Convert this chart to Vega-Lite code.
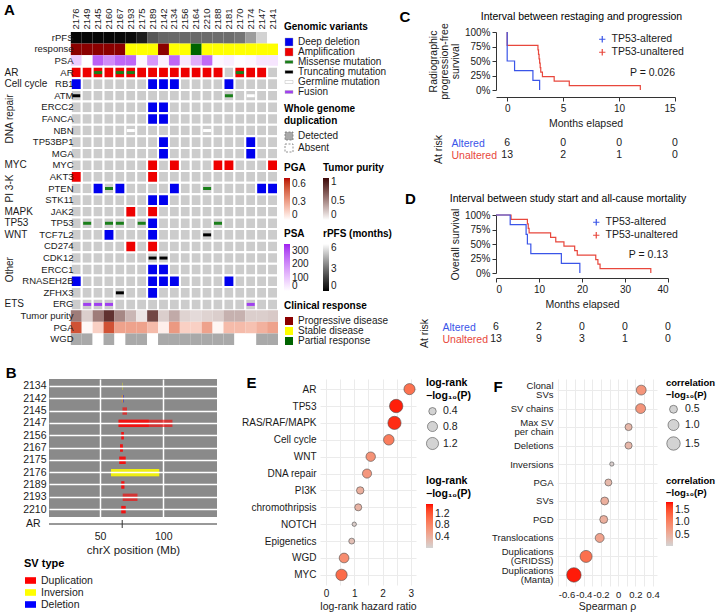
{
"$schema":"https://vega.github.io/schema/vega-lite/v6.json",
"padding":{"left":3,"top":2,"right":0,"bottom":0},
"config":{
 "font":"Liberation Sans",
 "view":{"stroke":null},
 "axis":{"labelFontSize":10,"titleFontSize":10.5,"titleFontWeight":"normal","labelColor":"#1a1a1a","titleColor":"#1a1a1a","domainColor":"#333333","tickColor":"#333333"},
 "legend":{"titleFontSize":10,"labelFontSize":10,"titleColor":"#000000","labelColor":"#1a1a1a","titleFontWeight":"bold","symbolBaseFillColor":"#d3d3d3","symbolBaseStrokeColor":"#4d4d4d","labelOverlap":false},
 "title":{"fontWeight":"normal","color":"#000000"}
},
"datasets":{
 "samples":[
  {"sample":"2176","rPFS":0.1,"response":"Progressive disease","PSA":90,"Tumor purity":0.55,"PGA":0.55,"WGD":"Detected","AR":"Amplification","RB1":"Deep deletion","AKT3":"Amplification","RNASEH2B":"Deep deletion"},
  {"sample":"2149","rPFS":0.1,"response":"Progressive disease","PSA":3,"Tumor purity":0.2,"PGA":0.02,"WGD":"Detected","AR":"Amplification"},
  {"sample":"2145","rPFS":0.1,"response":"Progressive disease","PSA":270,"Tumor purity":0.55,"PGA":0.15,"WGD":"Absent","AR":"Amplification","PTEN":"Deep deletion"},
  {"sample":"2160","rPFS":0.1,"response":"Progressive disease","PSA":200,"Tumor purity":0.9,"PGA":0.55,"WGD":"Detected","AR":"Amplification","TCF7L2":"Deep deletion"},
  {"sample":"2167","rPFS":0.15,"response":"Progressive disease","PSA":260,"Tumor purity":0.5,"PGA":0.3,"WGD":"Absent","AR":"Amplification","PTEN":"Deep deletion"},
  {"sample":"2193","rPFS":0.2,"response":"Stable disease","PSA":260,"Tumor purity":0.3,"PGA":0.3,"WGD":"Detected","AR":"Amplification","JAK2":"Amplification","CD274":"Amplification"},
  {"sample":"2175","rPFS":0.7,"response":"Stable disease","PSA":15,"Tumor purity":0.1,"PGA":0.3,"WGD":"Detected","AR":"Amplification"},
  {"sample":"2189","rPFS":2.4,"response":"Stable disease","PSA":180,"Tumor purity":0.8,"PGA":0.22,"WGD":"Absent","AR":"Amplification","RB1":"Deep deletion","ERCC2":"Deep deletion","FANCA":"Deep deletion","MYC":"Amplification","AKT3":"Amplification","STK11":"Deep deletion","JAK2":"Amplification","TP53":"Deep deletion","TCF7L2":"Deep deletion","CD274":"Amplification","ERCC1":"Deep deletion","RNASEH2B":"Deep deletion","ZFHX3":"Deep deletion"},
  {"sample":"2142","rPFS":2.8,"response":"Progressive disease","PSA":25,"Tumor purity":0.2,"PGA":0.05,"WGD":"Detected","AR":"Amplification","RB1":"Deep deletion","ERCC2":"Deep deletion","FANCA":"Deep deletion","TP53BP1":"Deep deletion","MGA":"Deep deletion","STK11":"Deep deletion","ERCC1":"Deep deletion","RNASEH2B":"Deep deletion"},
  {"sample":"2134","rPFS":2.85,"response":"Stable disease","PSA":260,"Tumor purity":0.35,"PGA":0.33,"WGD":"Detected","AR":"Amplification","RB1":"Deep deletion","MYC":"Amplification","PTEN":"Deep deletion","RNASEH2B":"Deep deletion"},
  {"sample":"2156","rPFS":2.85,"response":"Stable disease","PSA":40,"Tumor purity":0.18,"PGA":0.15,"WGD":"Detected","AR":"Amplification"},
  {"sample":"2164","rPFS":2.9,"response":"Partial response","PSA":140,"Tumor purity":0.15,"PGA":0.15,"WGD":"Detected","AR":"Amplification"},
  {"sample":"2210","rPFS":2.95,"response":"Stable disease","PSA":255,"Tumor purity":0.18,"PGA":0.3,"WGD":"Detected","AR":"Amplification"},
  {"sample":"2188","rPFS":3.0,"response":"Stable disease","PSA":15,"Tumor purity":0.2,"PGA":0.03,"WGD":"Detected","AR":"Amplification","MYC":"Amplification"},
  {"sample":"2181","rPFS":3.0,"response":"Stable disease","PSA":30,"Tumor purity":0.32,"PGA":0.22,"WGD":"Detected","RB1":"Deep deletion","MYC":"Amplification","RNASEH2B":"Deep deletion"},
  {"sample":"2170","rPFS":3.2,"response":"Stable disease","PSA":5,"Tumor purity":0.32,"PGA":0.22,"WGD":"Absent","AR":"Amplification"},
  {"sample":"2174","rPFS":4.2,"response":"Stable disease","PSA":15,"Tumor purity":0.2,"PGA":0.2,"WGD":"Absent","AR":"Amplification","TP53BP1":"Deep deletion","MGA":"Deep deletion"},
  {"sample":"2147","rPFS":5.5,"response":"Stable disease","PSA":45,"Tumor purity":0.2,"PGA":0.25,"WGD":"Detected","AR":"Amplification","PTEN":"Deep deletion"},
  {"sample":"2141","rPFS":11.9,"response":"Stable disease","PSA":45,"Tumor purity":0.22,"PGA":0.3,"WGD":"Detected","MYC":"Amplification","PTEN":"Deep deletion"}
 ],
 "muts":[
  {"sample":"2145","row":"AR","type":"Missense mutation"},
  {"sample":"2167","row":"AR","type":"Missense mutation"},
  {"sample":"2193","row":"AR","type":"Missense mutation"},
  {"sample":"2170","row":"AR","type":"Missense mutation"},
  {"sample":"2176","row":"ATM","type":"Truncating mutation"},
  {"sample":"2181","row":"ATM","type":"Missense mutation"},
  {"sample":"2174","row":"ATM","type":"Germline mutation"},
  {"sample":"2193","row":"NBN","type":"Germline mutation"},
  {"sample":"2210","row":"NBN","type":"Germline mutation"},
  {"sample":"2160","row":"PTEN","type":"Missense mutation"},
  {"sample":"2210","row":"PTEN","type":"Missense mutation"},
  {"sample":"2149","row":"TP53","type":"Missense mutation"},
  {"sample":"2160","row":"TP53","type":"Missense mutation"},
  {"sample":"2167","row":"TP53","type":"Missense mutation"},
  {"sample":"2175","row":"TP53","type":"Missense mutation"},
  {"sample":"2188","row":"TP53","type":"Missense mutation"},
  {"sample":"2210","row":"TCF7L2","type":"Truncating mutation"},
  {"sample":"2189","row":"CDK12","type":"Truncating mutation"},
  {"sample":"2142","row":"CDK12","type":"Truncating mutation"},
  {"sample":"2167","row":"ZFHX3","type":"Truncating mutation"},
  {"sample":"2149","row":"ERG","type":"Fusion"},
  {"sample":"2145","row":"ERG","type":"Fusion"},
  {"sample":"2160","row":"ERG","type":"Fusion"},
  {"sample":"2174","row":"ERG","type":"Fusion"}
 ]
},
"resolve":{"scale":{"color":"independent","size":"independent","shape":"independent"}},
"spacing":18,
"vconcat":[
 {
  "resolve":{"scale":{"color":"independent","size":"independent","shape":"independent"}},
  "spacing":7,
  "hconcat":[
   {
    "width":229,"height":313,
    "title":{"text":"A","anchor":"start","fontSize":15,"fontWeight":"bold","offset":0,"dy":10},
    "encoding":{"x":{"field":"sample","type":"nominal","scale":{"domain":["2176","2149","2145","2160","2167","2193","2175","2189","2142","2134","2156","2164","2210","2188","2181","2170","2174","2147","2141"],"paddingInner":0,"paddingOuter":1.27,"align":1},"axis":{"orient":"top","title":null,"labelAngle":-90,"labelFontSize":9.5,"ticks":false,"domain":false,"labelPadding":3}}},
    "resolve":{"scale":{"color":"independent","shape":"independent","y":"independent"},"axis":{"y":"independent"}},
    "layer":[
     {"data":{"name":"samples"},"transform":[{"fold":["rPFS"],"as":["row","value"]}],
      "mark":{"type":"rect"},
      "encoding":{"y":{"field":"row","type":"nominal","scale":{"domain":["rPFS","response","PSA","AR","RB1","ATM","ERCC2","FANCA","NBN","TP53BP1","MGA","MYC","AKT3","PTEN","STK11","JAK2","TP53","TCF7L2","CD274","CDK12","ERCC1","RNASEH2B","ZFHX3","ERG","Tumor purity","PGA","WGD"],"paddingInner":0,"paddingOuter":0},
         "axis":{"orient":"left","title":null,"ticks":false,"domain":false,"labelAlign":"left","labelPadding":45,"labelFontSize":10,"labelExpr":"datum.value == 'AR' ? 'AR' : datum.value == 'RB1' ? 'Cell cycle' : datum.value == 'MYC' ? 'MYC' : datum.value == 'JAK2' ? 'MAPK' : datum.value == 'TP53' ? 'TP53' : datum.value == 'TCF7L2' ? 'WNT' : datum.value == 'ERG' ? 'ETS' : ''"}},
        "color":{"field":"value","type":"quantitative","scale":{"domain":[0,6.5],"range":["#000000","#ffffff"],"clamp":true,"interpolate":"lab"},"legend":{"title":"rPFS (months)","orient":"none","legendX":274,"legendY":197,"values":[0,3,6],"gradientLength":47,"gradientThickness":6,"direction":"vertical"}}}},
     {"data":{"name":"samples"},"transform":[{"fold":["response"],"as":["row","value"]}],
      "mark":{"type":"rect"},
      "encoding":{"y":{"field":"row","type":"nominal","scale":{"domain":["rPFS","response","PSA","AR","RB1","ATM","ERCC2","FANCA","NBN","TP53BP1","MGA","MYC","AKT3","PTEN","STK11","JAK2","TP53","TCF7L2","CD274","CDK12","ERCC1","RNASEH2B","ZFHX3","ERG","Tumor purity","PGA","WGD"],"paddingInner":0,"paddingOuter":0},"axis":null},
        "color":{"field":"value","type":"nominal","scale":{"domain":["Progressive disease","Stable disease","Partial response"],"range":["#8b0000","#ffff00","#006400"]},"legend":{"title":"Clinical response","orient":"none","legendX":235,"legendY":269,"symbolType":"square","symbolSize":64,"rowPadding":0}}}},
     {"data":{"name":"samples"},"transform":[{"fold":["PSA"],"as":["row","value"]}],
      "mark":{"type":"rect"},
      "encoding":{"y":{"field":"row","type":"nominal","scale":{"domain":["rPFS","response","PSA","AR","RB1","ATM","ERCC2","FANCA","NBN","TP53BP1","MGA","MYC","AKT3","PTEN","STK11","JAK2","TP53","TCF7L2","CD274","CDK12","ERCC1","RNASEH2B","ZFHX3","ERG","Tumor purity","PGA","WGD"],"paddingInner":0,"paddingOuter":0},
         "axis":{"orient":"left","title":null,"ticks":false,"domain":false,"labelAngle":270,"labelAlign":"center","labelBaseline":"middle","labelPadding":40,"labelFontSize":10,"labelExpr":"datum.value == 'FANCA' ? 'DNA repair' : datum.value == 'PTEN' ? 'PI 3-K' : datum.value == 'ERCC1' ? 'Other' : ''"}},
        "color":{"field":"value","type":"quantitative","scale":{"domain":[0,350],"range":["#ffffff","#a020f0"],"interpolate":"lab"},"legend":{"title":"PSA","orient":"none","legendX":235,"legendY":197,"values":[0,100,200,300],"gradientLength":47,"gradientThickness":6,"direction":"vertical"}}}},
     {
      "layer":[
       {"data":{"name":"samples"},"transform":[{"fold":["AR","RB1","ATM","ERCC2","FANCA","NBN","TP53BP1","MGA","MYC","AKT3","PTEN","STK11","JAK2","TP53","TCF7L2","CD274","CDK12","ERCC1","RNASEH2B","ZFHX3","ERG"],"as":["row","cna"]}],
        "mark":{"type":"rect","color":"#cccccc","stroke":"#ffffff","strokeWidth":2},
        "encoding":{"y":{"field":"row","type":"nominal","scale":{"domain":["rPFS","response","PSA","AR","RB1","ATM","ERCC2","FANCA","NBN","TP53BP1","MGA","MYC","AKT3","PTEN","STK11","JAK2","TP53","TCF7L2","CD274","CDK12","ERCC1","RNASEH2B","ZFHX3","ERG","Tumor purity","PGA","WGD"],"paddingInner":0,"paddingOuter":0},"axis":{"orient":"left","title":null,"ticks":false,"domain":false,"offset":-27,"labelPadding":3,"labelFontSize":9.5}}}},
       {"data":{"name":"samples"},"transform":[{"fold":["AR","RB1","ATM","ERCC2","FANCA","NBN","TP53BP1","MGA","MYC","AKT3","PTEN","STK11","JAK2","TP53","TCF7L2","CD274","CDK12","ERCC1","RNASEH2B","ZFHX3","ERG"],"as":["row","cna"]},{"filter":"isValid(datum.cna)"}],
        "mark":{"type":"rect","stroke":"#ffffff","strokeWidth":2},
        "encoding":{"y":{"field":"row","type":"nominal","scale":{"domain":["rPFS","response","PSA","AR","RB1","ATM","ERCC2","FANCA","NBN","TP53BP1","MGA","MYC","AKT3","PTEN","STK11","JAK2","TP53","TCF7L2","CD274","CDK12","ERCC1","RNASEH2B","ZFHX3","ERG","Tumor purity","PGA","WGD"],"paddingInner":0,"paddingOuter":0},"axis":{"orient":"left","title":null,"ticks":false,"domain":false,"offset":-27,"labelPadding":3,"labelFontSize":9.5}},
          "color":{"field":"cna","type":"nominal","scale":{"domain":["Deep deletion","Amplification","Missense mutation","Truncating mutation","Germline mutation","Fusion"],"range":["#0000ee","#ee0000","#1a7f1a","#000000","#ffffff","#a040f0"]},"legend":{"title":"Genomic variants","orient":"none","legendX":235,"legendY":-10,"symbolSize":64,"rowPadding":0,"symbolStrokeColor":"#aaaaaa","symbolStrokeWidth":0.4}}}},
       {"data":{"name":"muts"},
        "mark":{"type":"point","filled":true,"opacity":1,"size":64,"strokeWidth":0},
        "encoding":{"y":{"field":"row","type":"nominal","scale":{"domain":["rPFS","response","PSA","AR","RB1","ATM","ERCC2","FANCA","NBN","TP53BP1","MGA","MYC","AKT3","PTEN","STK11","JAK2","TP53","TCF7L2","CD274","CDK12","ERCC1","RNASEH2B","ZFHX3","ERG","Tumor purity","PGA","WGD"],"paddingInner":0,"paddingOuter":0},"axis":{"orient":"left","title":null,"ticks":false,"domain":false,"offset":-27,"labelPadding":3,"labelFontSize":9.5}},
          "color":{"field":"type","type":"nominal","scale":{"domain":["Deep deletion","Amplification","Missense mutation","Truncating mutation","Germline mutation","Fusion"],"range":["#0000ee","#ee0000","#1a7f1a","#000000","#ffffff","#a040f0"]},"legend":{"title":"Genomic variants","orient":"none","legendX":235,"legendY":-10,"symbolSize":64,"rowPadding":0,"symbolStrokeColor":"#aaaaaa","symbolStrokeWidth":0.4}},
          "shape":{"field":"type","type":"nominal","scale":{"domain":["Deep deletion","Amplification","Missense mutation","Truncating mutation","Germline mutation","Fusion"],"range":["square","square","M-1,-0.375H1V0.375H-1Z","M-1,-0.375H1V0.375H-1Z","M-1,-0.375H1V0.375H-1Z","M-1,-0.375H1V0.375H-1Z"]},"legend":{"title":"Genomic variants","orient":"none","legendX":235,"legendY":-10,"symbolSize":64,"rowPadding":0,"symbolStrokeColor":"#aaaaaa","symbolStrokeWidth":0.4}}}}
      ]
     },
     {"data":{"name":"samples"},"transform":[{"fold":["Tumor purity"],"as":["row","value"]}],
      "mark":{"type":"rect"},
      "encoding":{"y":{"field":"row","type":"nominal","scale":{"domain":["rPFS","response","PSA","AR","RB1","ATM","ERCC2","FANCA","NBN","TP53BP1","MGA","MYC","AKT3","PTEN","STK11","JAK2","TP53","TCF7L2","CD274","CDK12","ERCC1","RNASEH2B","ZFHX3","ERG","Tumor purity","PGA","WGD"],"paddingInner":0,"paddingOuter":0},"axis":null},
        "color":{"field":"value","type":"quantitative","scale":{"domain":[0,1.1],"range":["#ffffff","#3d0808"],"interpolate":"lab"},"legend":{"title":"Tumor purity","orient":"none","legendX":274,"legendY":131,"values":[0,0.5,1],"format":"~g","gradientLength":42,"gradientThickness":6,"direction":"vertical"}}}},
     {"data":{"name":"samples"},"transform":[{"fold":["PGA"],"as":["row","value"]}],
      "mark":{"type":"rect"},
      "encoding":{"y":{"field":"row","type":"nominal","scale":{"domain":["rPFS","response","PSA","AR","RB1","ATM","ERCC2","FANCA","NBN","TP53BP1","MGA","MYC","AKT3","PTEN","STK11","JAK2","TP53","TCF7L2","CD274","CDK12","ERCC1","RNASEH2B","ZFHX3","ERG","Tumor purity","PGA","WGD"],"paddingInner":0,"paddingOuter":0},"axis":null},
        "color":{"field":"value","type":"quantitative","scale":{"domain":[0,0.7],"range":["#ffffff","#b80000"],"interpolate":"lab"},"legend":{"title":"PGA","orient":"none","legendX":235,"legendY":131,"values":[0,0.3,0.6],"format":"~g","gradientLength":42,"gradientThickness":6,"direction":"vertical"}}}},
     {"data":{"name":"samples"},"transform":[{"fold":["WGD"],"as":["row","value"]}],
      "mark":{"type":"rect"},
      "encoding":{"y":{"field":"row","type":"nominal","scale":{"domain":["rPFS","response","PSA","AR","RB1","ATM","ERCC2","FANCA","NBN","TP53BP1","MGA","MYC","AKT3","PTEN","STK11","JAK2","TP53","TCF7L2","CD274","CDK12","ERCC1","RNASEH2B","ZFHX3","ERG","Tumor purity","PGA","WGD"],"paddingInner":0,"paddingOuter":0},"axis":null},
        "color":{"field":"value","type":"nominal","scale":{"domain":["Detected","Absent"],"range":["#a9a9a9","#ffffff"]},"legend":{"title":["Whole genome","duplication"],"orient":"none","legendX":235,"legendY":72,"symbolType":"square","symbolSize":64,"rowPadding":0,"symbolStrokeColor":"#777777","symbolStrokeWidth":0.8,"symbolDash":[2,1.5]}}}}
    ]
   },
   {
    "resolve":{"scale":{"color":"independent","size":"independent","shape":"independent"}},
    "spacing":27,
    "vconcat":[
     {
      "bounds":"flush","spacing":47,
      "title":{"text":"C","anchor":"start","fontSize":15,"fontWeight":"bold","offset":0,"dx":-29,"dy":13},
      "vconcat":[
       {
        "width":179,"height":58,
        "title":{"text":"Interval between restaging and progression","fontSize":10.5,"offset":0,"dx":-4},
        "layer":[
         {"data":{"values":[{"g":"TP53-unaltered","t":0,"s":1},{"g":"TP53-unaltered","t":0,"s":0.769},{"g":"TP53-unaltered","t":2.75,"s":0.692},{"g":"TP53-unaltered","t":2.8,"s":0.615},{"g":"TP53-unaltered","t":2.85,"s":0.538},{"g":"TP53-unaltered","t":2.9,"s":0.462},{"g":"TP53-unaltered","t":2.95,"s":0.385},{"g":"TP53-unaltered","t":3.0,"s":0.308},{"g":"TP53-unaltered","t":3.15,"s":0.231},{"g":"TP53-unaltered","t":4.2,"s":0.154},{"g":"TP53-unaltered","t":5.55,"s":0.077},{"g":"TP53-unaltered","t":11.9,"s":0}]},
          "mark":{"type":"line","interpolate":"step-after","strokeWidth":1.2},
          "encoding":{
           "x":{"field":"t","type":"quantitative","scale":{"domain":[-1,15],"nice":false,"zero":false},"axis":{"values":[0,5,10,15],"title":"Months elapsed","offset":7,"grid":false,"tickSize":4,"labelPadding":2,"titlePadding":5,"labelOverlap":false}},
           "y":{"field":"s","type":"quantitative","scale":{"domain":[0,1],"nice":false},"axis":{"values":[0,0.25,0.5,0.75,1],"format":".0%","title":["Radiographic","progression-free","survival"],"grid":false,"tickSize":4,"titlePadding":4,"titleLineHeight":11,"labelOverlap":false}},
           "order":{"value":null},"color":{"field":"g","type":"nominal","scale":{"domain":["TP53-altered","TP53-unaltered"],"range":["#3a55e8","#e8473c"]},"legend":{"title":null,"orient":"none","legendX":101,"legendY":2,"symbolType":"M-1,0H1M0,-1V1","symbolSize":40,"symbolStrokeWidth":1.2,"labelFontSize":10.5,"rowPadding":1}}}},
         {"data":{"values":[{"g":"TP53-altered","t":0,"s":1},{"g":"TP53-altered","t":0,"s":0.5},{"g":"TP53-altered","t":0.66,"s":0.333},{"g":"TP53-altered","t":2.3,"s":0.167},{"g":"TP53-altered","t":2.9,"s":0}]},
          "mark":{"type":"line","interpolate":"step-after","strokeWidth":1.2},
          "encoding":{
           "x":{"field":"t","type":"quantitative","scale":{"domain":[-1,15],"nice":false,"zero":false},"axis":{"values":[0,5,10,15],"title":"Months elapsed","offset":7,"grid":false,"tickSize":4,"labelPadding":2,"titlePadding":5,"labelOverlap":false}},
           "y":{"field":"s","type":"quantitative","scale":{"domain":[0,1],"nice":false},"axis":{"values":[0,0.25,0.5,0.75,1],"format":".0%","title":["Radiographic","progression-free","survival"],"grid":false,"tickSize":4,"titlePadding":4,"titleLineHeight":11,"labelOverlap":false}},
           "order":{"value":null},"color":{"field":"g","type":"nominal","scale":{"domain":["TP53-altered","TP53-unaltered"],"range":["#3a55e8","#e8473c"]},"legend":{"title":null,"orient":"none","legendX":101,"legendY":2,"symbolType":"M-1,0H1M0,-1V1","symbolSize":40,"symbolStrokeWidth":1.2,"labelFontSize":10.5,"rowPadding":1}}}},
         {"data":{"values":[{"label":"P = 0.026"}]},"mark":{"type":"text","align":"right","baseline":"middle","fontSize":10.5,"color":"#1a1a1a"},
          "encoding":{
           "x":{"datum":15,"type":"quantitative","scale":{"domain":[-1,15],"nice":false,"zero":false},"axis":{"values":[0,5,10,15],"title":"Months elapsed","offset":7,"grid":false,"tickSize":4,"labelPadding":2,"titlePadding":5,"labelOverlap":false}},
           "y":{"datum":0.3,"type":"quantitative","scale":{"domain":[0,1],"nice":false},"axis":{"values":[0,0.25,0.5,0.75,1],"format":".0%","title":["Radiographic","progression-free","survival"],"grid":false,"tickSize":4,"titlePadding":4,"titleLineHeight":11,"labelOverlap":false}},
           "text":{"field":"label","type":"nominal"}}}
        ]
       },
       {
        "width":179,"height":24,
        "data":{"values":[{"g":"Altered","t":0,"n":6},{"g":"Altered","t":5,"n":0},{"g":"Altered","t":10,"n":0},{"g":"Altered","t":15,"n":0},{"g":"Unaltered","t":0,"n":13},{"g":"Unaltered","t":5,"n":2},{"g":"Unaltered","t":10,"n":1},{"g":"Unaltered","t":15,"n":0}]},
        "mark":{"type":"text","fontSize":10.5,"color":"#1a1a1a"},
        "encoding":{
         "x":{"field":"t","type":"quantitative","scale":{"domain":[-1,15],"nice":false,"zero":false},"axis":null},
         "y":{"field":"g","type":"nominal","scale":{"domain":["Altered","Unaltered"],"paddingInner":0,"paddingOuter":0},"axis":{"title":"At risk","ticks":false,"domain":false,"labelFontSize":10.5,"labelAlign":"left","labelPadding":45,"titlePadding":8,"labelColor":{"condition":{"test":"datum.value == 'Altered'","value":"#3a55e8"},"value":"#e8473c"}}},
         "text":{"field":"n","type":"quantitative"}
        }
       }
      ]
     },
     {
      "bounds":"flush","spacing":48,
      "title":{"text":"D","anchor":"start","fontSize":15,"fontWeight":"bold","offset":0,"dx":-14,"dy":13},
      "vconcat":[
       {
        "width":172,"height":58,
        "title":{"text":"Interval between study start and all-cause mortality","fontSize":10.5,"offset":4,"dx":-14},
        "layer":[
         {"data":{"values":[{"g":"TP53-unaltered","t":0,"s":1},{"g":"TP53-unaltered","t":3.5,"s":0.923},{"g":"TP53-unaltered","t":7.3,"s":0.846},{"g":"TP53-unaltered","t":7.5,"s":0.769},{"g":"TP53-unaltered","t":7.7,"s":0.692},{"g":"TP53-unaltered","t":12.7,"s":0.615},{"g":"TP53-unaltered","t":13.9,"s":0.538},{"g":"TP53-unaltered","t":15.8,"s":0.462},{"g":"TP53-unaltered","t":18.3,"s":0.385},{"g":"TP53-unaltered","t":18.9,"s":0.308},{"g":"TP53-unaltered","t":23.2,"s":0.231},{"g":"TP53-unaltered","t":23.7,"s":0.154},{"g":"TP53-unaltered","t":24.2,"s":0.077},{"g":"TP53-unaltered","t":36,"s":0}]},
          "mark":{"type":"line","interpolate":"step-after","strokeWidth":1.2},
          "encoding":{
           "x":{"field":"t","type":"quantitative","scale":{"domain":[0,40],"nice":false,"zero":false},"axis":{"values":[0,10,20,30,40],"title":"Months elapsed","offset":5,"grid":false,"tickSize":4,"labelPadding":2,"titlePadding":5,"labelOverlap":false}},
           "y":{"field":"s","type":"quantitative","scale":{"domain":[0,1],"nice":false},"axis":{"values":[0,0.25,0.5,0.75,1],"format":".0%","title":"Overall survival","grid":false,"tickSize":4,"titlePadding":4,"labelOverlap":false}},
           "order":{"value":null},"color":{"field":"g","type":"nominal","scale":{"domain":["TP53-altered","TP53-unaltered"],"range":["#3a55e8","#e8473c"]},"legend":{"title":null,"orient":"none","legendX":95,"legendY":2,"symbolType":"M-1,0H1M0,-1V1","symbolSize":40,"symbolStrokeWidth":1.2,"labelFontSize":10.5,"rowPadding":1}}}},
         {"data":{"values":[{"g":"TP53-altered","t":0,"s":1},{"g":"TP53-altered","t":3.3,"s":0.833},{"g":"TP53-altered","t":7.0,"s":0.667},{"g":"TP53-altered","t":7.3,"s":0.5},{"g":"TP53-altered","t":8.1,"s":0.333},{"g":"TP53-altered","t":15.2,"s":0.167},{"g":"TP53-altered","t":19.5,"s":0}]},
          "mark":{"type":"line","interpolate":"step-after","strokeWidth":1.2},
          "encoding":{
           "x":{"field":"t","type":"quantitative","scale":{"domain":[0,40],"nice":false,"zero":false},"axis":{"values":[0,10,20,30,40],"title":"Months elapsed","offset":5,"grid":false,"tickSize":4,"labelPadding":2,"titlePadding":5,"labelOverlap":false}},
           "y":{"field":"s","type":"quantitative","scale":{"domain":[0,1],"nice":false},"axis":{"values":[0,0.25,0.5,0.75,1],"format":".0%","title":"Overall survival","grid":false,"tickSize":4,"titlePadding":4,"labelOverlap":false}},
           "order":{"value":null},"color":{"field":"g","type":"nominal","scale":{"domain":["TP53-altered","TP53-unaltered"],"range":["#3a55e8","#e8473c"]},"legend":{"title":null,"orient":"none","legendX":95,"legendY":2,"symbolType":"M-1,0H1M0,-1V1","symbolSize":40,"symbolStrokeWidth":1.2,"labelFontSize":10.5,"rowPadding":1}}}},
         {"data":{"values":[{"label":"P = 0.13"}]},"mark":{"type":"text","align":"right","baseline":"middle","fontSize":10.5,"color":"#1a1a1a"},
          "encoding":{
           "x":{"datum":40,"type":"quantitative","scale":{"domain":[0,40],"nice":false,"zero":false},"axis":{"values":[0,10,20,30,40],"title":"Months elapsed","offset":5,"grid":false,"tickSize":4,"labelPadding":2,"titlePadding":5,"labelOverlap":false}},
           "y":{"datum":0.31,"type":"quantitative","scale":{"domain":[0,1],"nice":false},"axis":{"values":[0,0.25,0.5,0.75,1],"format":".0%","title":"Overall survival","grid":false,"tickSize":4,"titlePadding":4,"labelOverlap":false}},
           "text":{"field":"label","type":"nominal"}}}
        ]
       },
       {
        "width":172,"height":24,
        "data":{"values":[{"g":"Altered","t":0,"n":6},{"g":"Altered","t":10,"n":2},{"g":"Altered","t":20,"n":0},{"g":"Altered","t":30,"n":0},{"g":"Altered","t":40,"n":0},{"g":"Unaltered","t":0,"n":13},{"g":"Unaltered","t":10,"n":9},{"g":"Unaltered","t":20,"n":3},{"g":"Unaltered","t":30,"n":1},{"g":"Unaltered","t":40,"n":0}]},
        "mark":{"type":"text","fontSize":10.5,"color":"#1a1a1a"},
        "encoding":{
         "x":{"field":"t","type":"quantitative","scale":{"domain":[0,40],"nice":false,"zero":false},"axis":null},
         "y":{"field":"g","type":"nominal","scale":{"domain":["Altered","Unaltered"],"paddingInner":0,"paddingOuter":0},"axis":{"title":"At risk","ticks":false,"domain":false,"labelFontSize":10.5,"labelAlign":"left","labelPadding":54,"titlePadding":13,"labelColor":{"condition":{"test":"datum.value == 'Altered'","value":"#3a55e8"},"value":"#e8473c"}}},
         "text":{"field":"n","type":"quantitative"}
        }
       }
      ]
     }
    ]
   }
  ]
 },
 {
  "resolve":{"scale":{"color":"independent","size":"independent","shape":"independent"}},
  "spacing":23,
  "hconcat":[
   {
    "bounds":"flush","spacing":1,
    "title":{"text":"B","anchor":"start","fontSize":15,"fontWeight":"bold","offset":0,"dx":-17,"dy":2},
    "vconcat":[
     {
      "width":168,"height":138,
      "view":{"fill":"#8a8a8a"},
      "data":{"values":[
       {"sample":"2134","start":67.4,"end":67.8,"type":"Inversion"},
       {"sample":"2142","start":67.2,"end":67.7,"type":"Duplication"},
       {"sample":"2142","start":67.2,"end":67.7,"type":"Inversion"},
       {"sample":"2142","start":68.3,"end":68.8,"type":"Deletion"},
       {"sample":"2145","start":67.7,"end":71.3,"type":"Duplication"},
       {"sample":"2147","start":64.6,"end":107.3,"type":"Duplication"},
       {"sample":"2147","start":64.6,"end":88.6,"type":"Duplication"},
       {"sample":"2156","start":66.8,"end":68.8,"type":"Duplication"},
       {"sample":"2156","start":66.8,"end":68.8,"type":"Duplication"},
       {"sample":"2167","start":65.8,"end":68.0,"type":"Duplication"},
       {"sample":"2167","start":65.8,"end":68.0,"type":"Duplication"},
       {"sample":"2175","start":65.2,"end":70.2,"type":"Duplication"},
       {"sample":"2175","start":65.2,"end":70.2,"type":"Duplication"},
       {"sample":"2176","start":58.6,"end":96.8,"type":"Inversion"},
       {"sample":"2176","start":58.6,"end":96.8,"type":"Inversion"},
       {"sample":"2189","start":66.8,"end":69.2,"type":"Duplication"},
       {"sample":"2189","start":66.8,"end":69.2,"type":"Duplication"},
       {"sample":"2193","start":67.9,"end":79.6,"type":"Duplication"},
       {"sample":"2210","start":66.8,"end":70.2,"type":"Duplication"},
       {"sample":"2210","start":66.8,"end":70.2,"type":"Duplication"}
      ]},
      "mark":{"type":"rect","opacity":0.62},
      "encoding":{
       "x":{"field":"start","type":"quantitative","scale":{"domain":[9.5,142.6],"nice":false,"zero":false},"axis":{"values":[50,100],"labels":false,"ticks":false,"domain":false,"title":null,"grid":true,"gridColor":"#ffffff","gridWidth":1.5}},
       "x2":{"field":"end"},
       "y":{"field":"sample","type":"nominal","scale":{"domain":["2134","2142","2145","2147","2156","2167","2175","2176","2189","2193","2210"],"paddingInner":0.4,"paddingOuter":0.3},"axis":{"title":null,"ticks":false,"domain":false,"grid":true,"gridColor":"#ffffff","gridWidth":1.5,"bandPosition":0.5,"labelPadding":3,"labelFontSize":10.5}},
       "color":{"field":"type","type":"nominal","scale":{"domain":["Duplication","Inversion","Deletion"],"range":["#ff0000","#ffff00","#0000ff"]},"legend":{"title":"SV type","orient":"none","legendX":-25,"legendY":179,"symbolType":"M-1,-0.6H1V0.6H-1Z","symbolSize":121,"symbolOpacity":1,"labelFontSize":10.5,"titleFontSize":11,"rowPadding":0}}
      }
     },
     {
      "width":168,"height":12,
      "data":{"values":[{"row":"AR","pos":67.5}]},
      "encoding":{
       "y":{"field":"row","type":"nominal","scale":{"domain":["AR"]},"axis":{"title":null,"ticks":false,"domain":false,"labelPadding":9,"labelFontSize":10.5}}
      },
      "layer":[
       {"mark":{"type":"rule","color":"#333333"}},
       {"mark":{"type":"tick","orient":"vertical","color":"#333333","size":8,"thickness":1,"opacity":1},
        "encoding":{"x":{"field":"pos","type":"quantitative","scale":{"domain":[9.5,142.6],"nice":false,"zero":false},"axis":{"values":[50,100],"ticks":false,"domain":false,"grid":false,"title":"chrX position (Mb)","labelPadding":1,"titlePadding":3,"labelFontSize":10.5,"titleFontSize":11.5}}}}
      ]
     }
    ]
   },
   {
    "resolve":{"scale":{"color":"independent","size":"independent","shape":"independent"}},
    "spacing":20,
    "hconcat":[
     {
      "width":96,"height":206,
      "title":{"text":"E","anchor":"start","fontSize":15,"fontWeight":"bold","offset":0,"dx":5,"dy":13},
      "data":{"values":[
       {"cat":"AR","hr":2.95,"p":1.0},
       {"cat":"TP53","hr":2.48,"p":1.5},
       {"cat":"RAS/RAF/MAPK","hr":2.42,"p":1.45},
       {"cat":"Cell cycle","hr":2.22,"p":0.9},
       {"cat":"WNT","hr":1.58,"p":0.7},
       {"cat":"DNA repair","hr":1.45,"p":0.65},
       {"cat":"PI3K","hr":1.21,"p":0.4},
       {"cat":"chromothripsis","hr":1.14,"p":0.35},
       {"cat":"NOTCH","hr":1.0,"p":0.08},
       {"cat":"Epigenetics","hr":0.91,"p":0.22},
       {"cat":"WGD","hr":0.64,"p":0.75},
       {"cat":"MYC","hr":0.55,"p":1.05}
      ]},
      "mark":{"type":"point","filled":true,"opacity":1,"stroke":"#4d4d4d","strokeWidth":0.6},
      "encoding":{
       "y":{"field":"cat","type":"nominal","scale":{"type":"point","padding":0.6,"domain":["AR","TP53","RAS/RAF/MAPK","Cell cycle","WNT","DNA repair","PI3K","chromothripsis","NOTCH","Epigenetics","WGD","MYC"]},"axis":{"title":null,"ticks":false,"domain":false,"grid":true,"gridColor":"#ebebeb","labelPadding":4,"labelFontSize":10}},
       "x":{"field":"hr","type":"quantitative","scale":{"domain":[-0.21,3.18],"nice":false,"zero":false},"axis":{"values":[0,0.5,1,1.5,2,2.5,3],"labelExpr":"datum.value % 1 == 0 ? format(datum.value, 'd') : ''","ticks":false,"domain":false,"grid":true,"gridColor":"#ebebeb","title":"log-rank hazard ratio","labelPadding":3,"titlePadding":3,"labelOverlap":false}},
       "size":{"field":"p","type":"quantitative","scale":{"domain":[0,1.5],"range":[10,180]},"legend":{"title":["log-rank","−log₁₀(P)"],"orient":"none","legendX":106,"legendY":-1,"values":[0.4,0.8,1.2],"format":".1f","symbolFillColor":"#d3d3d3","symbolStrokeColor":"#4d4d4d","symbolStrokeWidth":0.6,"labelFontSize":10.5,"titleFontSize":10.5,"rowPadding":3}},
       "color":{"field":"p","type":"quantitative","scale":{"domain":[0,1.55],"range":["#d3d3d3","#ff0000"],"interpolate":"lab"},"legend":{"title":["log-rank","−log₁₀(P)"],"orient":"none","legendX":106,"legendY":97,"values":[0.4,0.8,1.2],"format":".1f","gradientLength":44,"gradientThickness":7,"direction":"vertical","labelFontSize":10.5,"titleFontSize":10.5}}
      }
     },
     {
      "width":100,"height":207,
      "title":{"text":"F","anchor":"start","fontSize":15,"fontWeight":"bold","offset":0,"dx":2,"dy":17},
      "data":{"values":[
       {"cat":"Clonal SVs","rho":0.267,"p":0.8},
       {"cat":"SV chains","rho":0.26,"p":0.8},
       {"cat":"Max SV per chain","rho":0.12,"p":0.4},
       {"cat":"Deletions","rho":0.12,"p":0.4},
       {"cat":"Inversions","rho":-0.074,"p":0.12},
       {"cat":"PGA","rho":-0.114,"p":0.38},
       {"cat":"SVs","rho":-0.157,"p":0.5},
       {"cat":"PGD","rho":-0.168,"p":0.5},
       {"cat":"Translocations","rho":-0.215,"p":0.65},
       {"cat":"Duplications (GRIDSS)","rho":-0.373,"p":1.2},
       {"cat":"Duplications (Manta)","rho":-0.514,"p":1.75}
      ]},
      "mark":{"type":"point","filled":true,"opacity":1,"stroke":"#4d4d4d","strokeWidth":0.6},
      "encoding":{
       "y":{"field":"cat","type":"nominal","scale":{"type":"point","padding":0.6,"domain":["Clonal SVs","SV chains","Max SV per chain","Deletions","Inversions","PGA","SVs","PGD","Translocations","Duplications (GRIDSS)","Duplications (Manta)"]},"axis":{"title":null,"ticks":false,"domain":false,"grid":true,"gridColor":"#ebebeb","labelPadding":4,"labelFontSize":9.5,"labelLineHeight":9,"labelOffset":{"condition":{"test":"datum.label == 'Clonal SVs' || datum.label == 'Max SV per chain' || datum.label == 'Duplications (GRIDSS)' || datum.label == 'Duplications (Manta)'","value":-4.5},"value":0},"labelExpr":"datum.label == 'Clonal SVs' ? ['Clonal','SVs'] : datum.label == 'Max SV per chain' ? ['Max SV','per chain'] : datum.label == 'Duplications (GRIDSS)' ? ['Duplications','(GRIDSS)'] : datum.label == 'Duplications (Manta)' ? ['Duplications','(Manta)'] : datum.label"}},
       "x":{"field":"rho","type":"quantitative","scale":{"domain":[-0.71,0.45],"nice":false,"zero":false},"axis":{"values":[-0.7,-0.6,-0.5,-0.4,-0.3,-0.2,-0.1,0,0.1,0.2,0.3,0.4],"labelExpr":"abs(round(datum.value*10)) % 2 == 0 && datum.value > -0.65 ? (datum.value == 0 ? '0' : replace(format(datum.value, '.1f'), '−', '-')) : ''","ticks":false,"domain":false,"grid":true,"gridColor":"#ebebeb","title":"Spearman ρ","labelPadding":3,"titlePadding":3,"labelOverlap":false,"labelFontSize":9.5}},
       "size":{"field":"p","type":"quantitative","scale":{"domain":[0,1.8],"range":[4,215]},"legend":{"title":["correlation","−log₁₀(P)"],"orient":"none","legendX":109,"legendY":-1,"values":[0.5,1,1.5],"format":".1f","symbolFillColor":"#d3d3d3","symbolStrokeColor":"#4d4d4d","symbolStrokeWidth":0.6,"labelFontSize":10.5,"titleFontSize":9.5,"rowPadding":3}},
       "color":{"field":"p","type":"quantitative","scale":{"domain":[0.05,1.8],"range":["#d3d3d3","#ff0000"],"interpolate":"lab"},"legend":{"title":["correlation","−log₁₀(P)"],"orient":"none","legendX":109,"legendY":97,"values":[0.5,1,1.5],"format":".1f","gradientLength":44,"gradientThickness":7,"direction":"vertical","labelFontSize":10.5,"titleFontSize":9.5}}
      }
     }
    ]
   }
  ]
 }
]
}
